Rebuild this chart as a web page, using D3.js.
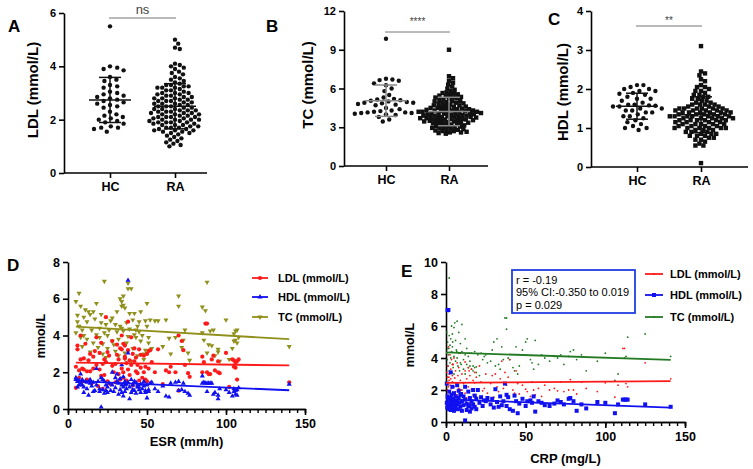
<!DOCTYPE html>
<html><head><meta charset="utf-8">
<script src="https://cdn.jsdelivr.net/npm/d3@7"></script>
<style>body{margin:0;background:#fff}svg{font-family:"Liberation Sans",Arial,sans-serif}</style>
</head><body><svg id="c" width="753" height="469"></svg>
<script>
// ---------------- DATA ----------------
const groupsABC = ["HC", "RA"];
const ticksA = [0, 2, 4, 6], ticksB = [0, 3, 6, 9, 12], ticksC = [0, 1, 2, 3, 4];
const sigLabels = ["ns", "****", "**"];
const yTitlesABC = ["LDL (mmol/L)", "TC (mmol/L)", "HDL (mmol/L)"];

const ldlHC = [5.5,4.0,3.95,3.9,3.85,3.6,3.5,3.45,3.3,3.25,3.2,3.05,3.0,2.95,2.9,2.85,2.8,2.75,2.7,2.65,2.6,2.55,2.5,2.45,2.3,2.2,2.15,2.1,2.05,2.0,1.95,1.9,1.85,1.75,1.7,1.7,1.65,1.55];
const ldlRA = [5.0,4.85,4.7,4.65,4.1,4.05,4.0,3.95,3.9,3.8,3.75,3.7,3.6,3.55,3.5,3.45,3.4,3.35,3.3,3.3,3.25,3.25,3.2,3.2,3.15,3.1,3.1,3.05,3.0,3.0,2.95,2.95,2.9,2.9,2.85,2.85,2.8,2.8,2.75,2.75,2.7,2.7,2.65,2.65,2.6,2.6,2.55,2.55,2.5,2.5,2.45,2.45,2.4,2.4,2.4,2.35,2.35,2.3,2.3,2.3,2.25,2.25,2.2,2.2,2.2,2.15,2.15,2.1,2.1,2.1,2.05,2.05,2.0,2.0,2.0,1.95,1.95,1.9,1.9,1.9,1.85,1.85,1.8,1.8,1.75,1.75,1.7,1.7,1.65,1.65,1.6,1.6,1.55,1.55,1.5,1.5,1.45,1.4,1.35,1.3,1.25,1.2,1.15,1.1,1.05,1.0,2.0,2.1,2.25,2.35,2.6,2.7,1.8,1.9,2.5,3.0,3.2,2.8,1.6,1.7];
const tcHC = [9.85,6.75,6.7,6.65,6.6,6.4,6.25,6.0,5.8,5.5,5.3,5.2,5.15,5.1,5.05,5.0,4.95,4.9,4.9,4.85,4.8,4.75,4.7,4.5,4.4,4.3,4.25,4.2,4.15,4.15,4.1,4.1,4.05,4.0,3.95,3.8,3.6,3.45];
const tcRA = [9.0,6.95,6.8,6.6,6.45,6.3,6.15,6.0,5.9,5.8,5.7,5.65,5.6,5.5,5.45,5.4,5.35,5.3,5.2,5.15,5.1,5.05,5.0,4.95,4.9,4.85,4.8,4.75,4.7,4.65,4.6,4.55,4.5,4.5,4.45,4.4,4.4,4.35,4.3,4.3,4.25,4.2,4.2,4.15,4.1,4.1,4.05,4.0,4.0,3.95,3.9,3.9,3.85,3.8,3.8,3.75,3.7,3.7,3.65,3.6,3.6,3.55,3.5,3.5,3.45,3.4,3.4,3.35,3.3,3.3,3.25,3.2,3.15,3.1,3.05,3.0,2.95,2.9,2.85,2.8,2.75,2.7,2.65,2.6,2.55,2.5,4.45,4.35,4.25,4.15,4.05,3.95,3.85,3.75,3.65,3.55,3.45,3.35,4.2,4.0,3.8,3.6,5.25,5.55,4.85,3.1,2.9,2.8,3.0,4.6,4.7,4.3,4.1,3.9,3.7,5.0,5.3,2.7,2.6,3.2];
const hdlHC = [2.1,2.1,2.05,2.0,2.0,1.95,1.95,1.9,1.88,1.85,1.8,1.75,1.75,1.7,1.65,1.6,1.6,1.58,1.57,1.55,1.55,1.5,1.5,1.45,1.45,1.4,1.4,1.35,1.3,1.3,1.25,1.2,1.15,1.1,1.05,1.0,1.0,0.95];
const hdlRA = [3.1,2.45,2.4,2.35,2.25,2.2,2.1,2.05,2.0,1.95,1.9,1.85,1.8,1.8,1.75,1.7,1.7,1.65,1.6,1.6,1.55,1.55,1.5,1.5,1.5,1.45,1.45,1.45,1.4,1.4,1.4,1.35,1.35,1.35,1.3,1.3,1.3,1.25,1.25,1.25,1.2,1.2,1.2,1.15,1.15,1.1,1.1,1.1,1.05,1.05,1.0,1.0,1.0,0.95,0.95,0.9,0.9,0.85,0.85,0.8,0.8,0.75,0.7,0.65,0.6,0.55,0.55,0.1,1.5,1.45,1.4,1.35,1.3,1.25,1.2,1.15,1.1,1.05,1.0,1.55,1.6,1.65,1.3,1.4,1.5,1.2,1.0,0.9,0.8,0.7,1.75,1.85,2.05,1.95,1.35,1.45,1.25,1.15,1.05,0.95,0.85,0.75,1.3,1.4,1.5,1.6,1.2,1.1,1.0,1.3];

// Panel D (ESR)
const ticksDX = [0, 50, 100, 150], ticksDY = [0, 2, 4, 6, 8];
const esr = [5,5,6,6,7,7,8,8,9,9, 10,10,11,12,12,13,14,14,15,16, 16,17,18,18,19,20,20,21,21,22, 22,23,23,24,24,25,25,26,27,28, 28,29,30,30,31,31,32,32,33,33, 34,34,34,35,35,35,36,36,37,37, 38,38,38,39,39,40,40,41,41,42, 42,43,43,44,45,45,46,46,47,48, 48,49,49,50,50,51,51,52,53,55, 57,60,62,64,65,68,70,70,72,73, 74,76,77,85,85,86,87,88,88,89, 90,91,92,93,95,95,96,100,102,104, 105,105,106,106,107,107,108,140,44,36];
const dLDL = [2.3,1.15,3.45,3.25,2.1,1.7,4.0,2.7,2.2,1.5, 2.75,2.15,3.55,2.05,1.6,2.65,3.0,2.05,1.4,2.85, 2.2,3.15,3.9,2.4,1.25,2.15,3.05,1.8,3.6,2.45, 1.1,2.7,1.85,5.0,2.55,1.5,3.1,2.9,1.35,2.35, 3.7,2.0,2.45,1.45,2.95,3.5,1.9,2.7,3.3,1.6, 2.2,4.0,3.25,3.55,2.0,1.7,2.85,3.45,2.5,1.55, 4.75,3.2,2.15,2.65,1.85,3.9,2.4,1.3,3.0,2.6, 3.3,2.05,2.8,1.95,1.55,3.25,2.25,2.95,1.7,2.0, 2.9,2.3,1.6,3.0,1.5,2.2,3.15,3.2,2.55,2.0, 3.25,1.35,2.1,2.0,2.3,2.0,4.0,1.0,3.7,3.2, 2.4,1.95,1.75,2.85,2.0,2.55,4.65,4.65,2.0,1.9, 1.9,2.7,2.9,2.1,2.6,2.0,1.95,3.05,1.2,2.7, 2.65,2.3,2.5,2.25,2.6,1.6,2.7,1.45,2.4,2.75];
const dHDL = [1.7,1.6,1.2,1.5,1.3,1.55,1.4,1.9,1.6,1.3, 1.2,0.9,1.5,1.45,1.1,0.75,1.6,1.4,1.25,0.95, 1.45,1.0,1.3,2.2,1.5,1.1,0.95,1.7,0.1,1.05, 1.6,0.85,1.5,1.0,1.3,0.9,1.2,1.4,1.0,2.0, 1.3,0.95,1.7,1.15,1.5,1.9,0.8,1.4,1.65,1.05, 2.4,1.3,0.9,1.75,1.2,0.7,1.5,0.95,1.35,1.1, 3.05,7.0,1.45,0.55,1.2,1.6,0.9,1.3,1.05,1.5, 1.0,1.45,0.85,1.3,1.2,1.05,0.9,1.35,1.1,1.25, 1.5,1.0,0.9,0.6,1.3,1.05,0.95,1.4,1.45,1.1, 0.95,1.25,0.7,0.65,1.4,1.45,1.5,1.0,1.05,1.4, 0.95,0.85,0.75,1.8,1.4,1.45,1.4,1.4,0.95,1.4, 1.4,1.4,0.8,0.9,0.55,0.75,1.1,1.05,0.9,0.7, 1.1,0.95,0.8,1.0,1.05,0.75,1.15,1.35,1.2,1.3];
const dTC = [4.15,5.85,5.1,4.75,6.3,4.5,3.9,5.6,3.4,4.3, 4.0,5.0,5.4,4.75,3.8,5.3,3.1,5.15,4.3,3.6, 5.3,4.9,5.75,4.05,3.35,3.9,4.4,5.15,4.7,3.55, 3.0,4.15,6.95,4.6,2.8,4.0,3.3,4.3,4.8,3.7, 4.95,3.5,4.6,3.15,5.3,4.2,2.9,3.8,6.0,4.5, 5.85,5.6,4.4,6.15,5.65,4.25,3.05,5.5,3.6,4.7, 6.85,6.55,3.95,5.2,4.35,6.55,2.6,4.85,3.3,4.05, 5.2,3.9,4.3,2.9,4.75,4.2,3.7,5.3,4.0,3.0, 2.7,4.8,3.2,5.75,4.5,3.6,3.9,4.85,3.3,4.8, 4.8,3.4,4.85,3.85,3.0,3.9,6.15,5.6,3.35,3.75, 4.3,3.05,2.65,5.55,4.15,3.75,5.35,6.9,3.05,3.5, 4.25,3.45,4.3,2.9,3.25,3.1,2.6,4.85,2.7,3.3, 4.1,3.7,4.25,3.75,4.3,3.6,3.9,3.4,4.5,2.75];
const fitDX = [5, 140];
const fitDLDL = [2.52, 2.37], fitDHDL = [1.52, 1.02], fitDTC = [4.48, 3.80];

// Panel E (CRP)
const ticksEX = [0, 50, 100, 150], ticksEY = [0, 2, 4, 6, 8, 10];
const crp = [0.5,0.5,0.8,1,1,1.2,1.5,1.5,2,2, 2,2.5,2.5,3,3,3,3.5,3.5,4,4, 4,4.5,5,5,5,5.5,6,6,6.5,7, 7,7.5,8,8,8.5,9,9,10,10,11, 11,12,12,12,13,13,14,14,15,15, 16,16,17,17,18,18,19,19,20,21, 22,23,24,25,26,28,29,30,31,32, 33,34,35,36,37,38,38,39,40,42, 43,44,45,46,48,50,51,53,54,55, 56,58,60,62,65,68,70,72,74,77, 78,80,82,85,88,95,100,106,108,111, 112,113,114,125,141,1.8,4.2,6.8,9.5,14.5];
const eHDL = [1.2,2.4,0.9,7.0,1.6,1.0,7.0,1.4,0.8,1.9, 1.1,1.5,0.95,3.1,1.3,0.75,1.7,1.05,1.2,2.2, 0.85,1.45,1.0,1.8,0.7,1.25,1.6,0.9,1.35,2.3, 1.1,0.8,1.5,1.95,1.2,0.95,1.7,1.3,0.7,1.05, 1.6,0.1,1.4,2.2,0.75,1.15,1.9,1.0,0.65,1.5, 1.3,0.85,2.0,1.1,1.65,0.95,1.45,0.8,2.0,1.2, 1.55,1.0,1.35,1.3,1.5,1.1,1.45,0.9,2.05,1.25, 0.95,1.6,1.05,1.3,2.4,1.7,1.0,1.55,0.8,0.7, 1.65,1.3,0.55,1.15,1.45,1.0,1.3,1.35,1.2,1.6, 0.65,1.3,1.2,1.05,1.0,1.15,1.35,1.25,1.1,1.45, 1.5,1.3,0.7,1.1,0.85,1.25,1.2,0.55,1.1,1.4, 1.4,1.4,1.4,1.1,0.95,1.45,0.9,1.25,1.75,1.05];
const eLDL = [2.4,3.1,2.0,2.8,1.6,3.5,2.2,4.7,1.9,2.6, 3.0,2.3,4.2,1.8,2.7,3.3,2.1,3.9,1.5,2.9, 2.5,3.6,1.3,2.2,4.0,2.75,1.9,3.2,2.4,1.7, 3.7,2.9,2.1,3.4,1.6,2.6,4.3,2.0,3.0,1.4, 2.4,3.2,1.8,3.75,2.7,1.5,3.4,2.2,2.9,1.2, 3.3,2.05,2.6,1.7,3.1,2.45,1.6,2.8,2.0,3.5, 2.5,1.95,2.1,3.0,1.8,2.4,2.9,1.55,3.0,2.2, 1.9,2.7,3.8,2.1,3.1,2.3,1.6,2.8,3.9,2.0, 1.8,3.2,2.4,1.75,2.3,2.05,1.9,1.6,2.5,2.0, 1.7,2.1,1.6,2.3,2.0,2.1,1.95,2.5,1.9,2.0, 2.65,2.0,1.75,2.5,2.1,1.9,2.45,1.55,2.3,4.6, 4.6,2.4,2.2,3.7,2.7,2.8,3.6,2.3,2.0,3.2];
const eTC = [5.6,4.3,3.9,5.0,4.6,3.5,6.9,4.2,5.4,3.2, 9.0,4.8,3.7,5.2,4.0,3.1,6.0,4.4,3.6,5.5, 4.7,3.4,5.9,4.1,3.0,6.2,5.1,3.8,4.5,6.3, 4.0,3.5,5.6,4.3,3.2,4.9,3.7,6.1,4.4,3.3, 3.9,4.2,5.2,3.0,4.6,3.6,4.1,3.4,3.5,3.8, 3.3,4.3,3.5,3.2,3.4,4.4,3.45,3.1,4.2,2.9, 4.3,3.9,4.1,4.2,3.7,3.8,4.5,5.0,3.5,5.2, 3.6,3.3,4.7,3.9,6.5,5.8,6.5,4.0,3.9,3.4, 3.2,4.7,3.0,3.5,4.5,5.0,5.2,3.9,3.7,3.3, 5.1,3.6,4.2,4.0,3.8,4.1,4.0,4.2,3.6,4.1, 4.4,4.5,3.9,4.2,3.2,3.8,4.3,2.6,3.0,6.9, 4.0,4.1,5.3,5.5,4.1,4.6,5.0,4.4,3.6,4.3];
const fitEX = [0, 141];
const fitELDL = [2.45, 2.55], fitEHDL = [1.42, 0.90], fitETC = [4.35, 3.88];
const statsE = ["r = -0.19", "95% CI:-0.350 to 0.019", "p = 0.029"];
const legendLabels = ["LDL (mmol/L)", "HDL (mmol/L)", "TC (mmol/L)"];

// ---------------- DRAW ----------------
const svg = d3.select("#c");
const RED = "#ff1a1a", BLUE = "#1010f0", OLIVE = "#8f8f1a", GREEN = "#237a23";
const intFmt = d3.format("d");

function styleAxis(g, w) {
  g.selectAll(".domain,.tick line").attr("stroke", "#000").attr("stroke-width", w);
  g.selectAll("text").attr("fill", "#000").attr("font-weight", "bold");
}

function swarm(values, y, cx, sp) {
  const pts = values.map(v => ({v, y: y(v)})).sort((a, b) => a.y - b.y);
  const placed = [];
  const d2 = sp * sp;
  pts.forEach(p => {
    for (let k = 0; k < 400; k++) {
      const off = (k % 2 ? 1 : -1) * Math.ceil(k / 2) * 0.8;
      const x = cx + off;
      let ok = true;
      for (const q of placed) {
        if (Math.abs(q.y - p.y) < sp && (q.x - x) ** 2 + (q.y - p.y) ** 2 < d2) { ok = false; break; }
      }
      if (ok) { p.x = x; break; }
    }
    placed.push(p);
  });
  return placed;
}

function dotPanel(c) {
  const g = svg.append("g");
  const y = d3.scaleLinear().domain([c.ticks[0], c.ticks[c.ticks.length - 1]]).range([c.y0, c.y1]);
  const x = d3.scalePoint().domain(groupsABC).range([c.hcX, c.raX]);
  const ya = g.append("g").attr("transform", `translate(${c.ax},0)`)
    .call(d3.axisLeft(y).tickValues(c.ticks).tickFormat(intFmt).tickSize(5).tickSizeOuter(0).tickPadding(3));
  ya.selectAll("text").attr("font-size", 11);
  styleAxis(ya, 1.6);
  const xa = g.append("g").attr("transform", `translate(0,${c.y0})`)
    .call(d3.axisBottom(x).tickSize(5).tickPadding(4));
  xa.select(".domain").attr("d", `M${c.ax},0H${c.axEnd}`);
  xa.selectAll("text").attr("font-size", 12.5);
  styleAxis(xa, 1.6);
  g.append("text").attr("transform", `translate(${c.titleX},${c.titleY}) rotate(-90)`)
    .attr("text-anchor", "middle").attr("font-size", 15).attr("font-weight", "bold").text(c.title);
  g.append("text").attr("x", c.letterX).attr("y", c.letterY).attr("font-size", 17).attr("font-weight", "bold").text(c.letter);
  g.append("line").attr("x1", x("HC") - 1).attr("x2", x("RA") + 1).attr("y1", c.sigY).attr("y2", c.sigY)
    .attr("stroke", "#777").attr("stroke-width", 1);
  g.append("text").attr("x", (x("HC") + x("RA")) / 2).attr("y", c.sigTextY).attr("text-anchor", "middle")
    .attr("font-size", c.sigSize).attr("fill", "#444").text(c.sig);
  [["HC", c.hc, "circle", c.spHC], ["RA", c.ra, c.raShape, c.spRA]].forEach(([grp, vals, shape, sp]) => {
    const pts = swarm(vals, y, x(grp), sp);
    if (shape === "circle") {
      g.append("g").selectAll("circle").data(pts).join("circle")
        .attr("cx", d => d.x).attr("cy", d => d.y).attr("r", c.r).attr("fill", "#111");
    } else {
      g.append("g").selectAll("rect").data(pts).join("rect")
        .attr("x", d => d.x - c.r).attr("y", d => d.y - c.r).attr("width", 2 * c.r).attr("height", 2 * c.r).attr("fill", "#111");
    }
    const m = d3.mean(vals), s = d3.deviation(vals), cx = x(grp);
    const lg = g.append("g").attr("stroke", c.lineColor).attr("stroke-width", 1.5);
    lg.append("line").attr("x1", cx - 21).attr("x2", cx + 21).attr("y1", y(m)).attr("y2", y(m));
    lg.append("line").attr("x1", cx).attr("x2", cx).attr("y1", y(m - s)).attr("y2", y(m + s));
    [m - s, m + s].forEach(v => lg.append("line").attr("x1", cx - 11).attr("x2", cx + 11).attr("y1", y(v)).attr("y2", y(v)));
  });
}

dotPanel({ticks: ticksA, y0: 173, y1: 13, ax: 64, axEnd: 207, hcX: 110, raX: 175, hc: ldlHC, ra: ldlRA,
  title: yTitlesABC[0], titleX: 38, titleY: 90, letter: "A", letterX: 8, letterY: 32,
  sig: sigLabels[0], sigY: 18, sigTextY: 14, sigSize: 13, r: 2.2, spHC: 6.6, spRA: 4.7, raShape: "circle", lineColor: "#111"});
dotPanel({ticks: ticksB, y0: 166, y1: 11, ax: 344, axEnd: 488, hcX: 386, raX: 449, hc: tcHC, ra: tcRA,
  title: yTitlesABC[1], titleX: 313, titleY: 85, letter: "B", letterX: 266, letterY: 32,
  sig: sigLabels[1], sigY: 32, sigTextY: 25, sigSize: 10, r: 2.2, spHC: 6.0, spRA: 3.9, raShape: "rect", lineColor: "#888"});
dotPanel({ticks: ticksC, y0: 167, y1: 11, ax: 591, axEnd: 748, hcX: 637, raX: 701, hc: hdlHC, ra: hdlRA,
  title: yTitlesABC[2], titleX: 568, titleY: 92, letter: "C", letterX: 548, letterY: 25,
  sig: sigLabels[2], sigY: 26, sigTextY: 24, sigSize: 10, r: 2.2, spHC: 6.3, spRA: 4.1, raShape: "rect", lineColor: "#111"});

// ---------- scatter panels ----------
function scatterPanel(c) {
  const g = svg.append("g");
  const x = d3.scaleLinear().domain([0, 150]).range([c.x0, c.x1]);
  const y = d3.scaleLinear().domain([0, c.ymax]).range([c.y0, c.y1]);
  const minor = g.append("g").attr("transform", `translate(0,${c.y0})`)
    .call(d3.axisBottom(x).tickValues(d3.range(0, 151, 5)).tickSize(4).tickFormat(""));
  styleAxis(minor, 1.4);
  const xa = g.append("g").attr("transform", `translate(0,${c.y0})`)
    .call(d3.axisBottom(x).tickValues(c.xticks).tickSize(6).tickSizeOuter(0).tickPadding(4));
  xa.selectAll("text").attr("font-size", 12.5);
  styleAxis(xa, 1.6);
  const ya = g.append("g").attr("transform", `translate(${c.x0},0)`)
    .call(d3.axisLeft(y).tickValues(c.yticks).tickFormat(intFmt).tickSize(5).tickSizeOuter(0).tickPadding(3));
  ya.selectAll("text").attr("font-size", 12.5);
  styleAxis(ya, 1.6);
  g.append("text").attr("x", (c.x0 + c.x1) / 2).attr("y", c.xtY).attr("text-anchor", "middle")
    .attr("font-size", 13).attr("font-weight", "bold").text(c.xtitle);
  g.append("text").attr("transform", `translate(${c.ytX},${c.ytY}) rotate(-90)`).attr("text-anchor", "middle")
    .attr("font-size", 12.5).attr("font-weight", "bold").text("mmol/L");
  g.append("text").attr("x", c.letterX).attr("y", c.letterY).attr("font-size", 17).attr("font-weight", "bold").text(c.letter);
  const line = d3.line().x(d => x(d[0])).y(d => y(d[1]));
  const sym = s => d3.symbol().type(s === "square" ? d3.symbolSquare : d3.symbolTriangle);
  c.series.forEach(s => {
    const pts = c.xs.map((v, i) => [v, s.vals[i]]);
    const sg = g.append("g");
    if (s.shape === "dot") {
      sg.selectAll("circle").data(pts).join("circle").attr("cx", d => x(d[0])).attr("cy", d => y(d[1]))
        .attr("r", s.r).attr("fill", s.color);
    } else {
      sg.selectAll("path").data(pts).join("path")
        .attr("transform", d => `translate(${x(d[0])},${y(d[1])})${s.shape === "down" ? " rotate(180)" : ""}`)
        .attr("d", sym(s.shape).size(s.size))
        .attr("fill", s.color);
    }
  });
  c.series.forEach(s => {
    g.append("path").attr("d", line(c.fitX.map((v, i) => [v, s.fit[i]]))).attr("stroke", s.color)
      .attr("stroke-width", 1.8).attr("fill", "none");
  });
  c.series.forEach(s => {
    const i = s.leg, ly = c.legY[i];
    g.append("line").attr("x1", c.legX).attr("x2", c.legX + c.legW).attr("y1", ly).attr("y2", ly)
      .attr("stroke", s.color).attr("stroke-width", 1.8);
    const mx = c.legX + c.legW / 2;
    if (s.shape === "dot") {
      g.append("circle").attr("cx", mx).attr("cy", ly).attr("r", s.r).attr("fill", s.color);
    } else {
      g.append("path").attr("transform", `translate(${mx},${ly})${s.shape === "down" ? " rotate(180)" : ""}`)
        .attr("d", sym(s.shape).size(s.size)).attr("fill", s.color);
    }
    g.append("text").attr("x", c.legTX).attr("y", ly + 4).attr("font-size", 11).attr("font-weight", "bold").text(legendLabels[i]);
  });
  return g;
}

scatterPanel({x0: 68, x1: 305, y0: 409, y1: 262, ymax: 8, xticks: ticksDX, yticks: ticksDY,
  xtitle: "ESR (mm/h)", xtY: 446, ytX: 45, ytY: 336, letter: "D", letterX: 7, letterY: 271,
  xs: esr, fitX: fitDX, legX: 252, legW: 16, legTX: 278, legY: [278, 297, 317],
  series: [
    {leg: 2, vals: dTC, fit: fitDTC, color: OLIVE, shape: "down", size: 11},
    {leg: 0, vals: dLDL, fit: fitDLDL, color: RED, shape: "dot", r: 2.1},
    {leg: 1, vals: dHDL, fit: fitDHDL, color: BLUE, shape: "up", size: 11}
  ]});

const gE = scatterPanel({x0: 446, x1: 685, y0: 422, y1: 262, ymax: 10, xticks: ticksEX, yticks: ticksEY,
  xtitle: "CRP (mg/L)", xtY: 463, ytX: 414, ytY: 345, letter: "E", letterX: 401, letterY: 277,
  xs: crp, fitX: fitEX, legX: 645, legW: 18, legTX: 670, legY: [274, 295, 317],
  series: [
    {leg: 2, vals: eTC, fit: fitETC, color: GREEN, shape: "dot", r: 0.9},
    {leg: 0, vals: eLDL, fit: fitELDL, color: RED, shape: "dot", r: 0.9},
    {leg: 1, vals: eHDL, fit: fitEHDL, color: BLUE, shape: "square", size: 16}
  ]});
gE.append("rect").attr("x", 512).attr("y", 270).attr("width", 123).attr("height", 43)
  .attr("fill", "#fff").attr("stroke", "#1f3fe0").attr("stroke-width", 1.8);
statsE.forEach((t, i) => gE.append("text").attr("x", 516).attr("y", 284 + i * 12.3).attr("font-size", 11).text(t));
</script></body></html>
